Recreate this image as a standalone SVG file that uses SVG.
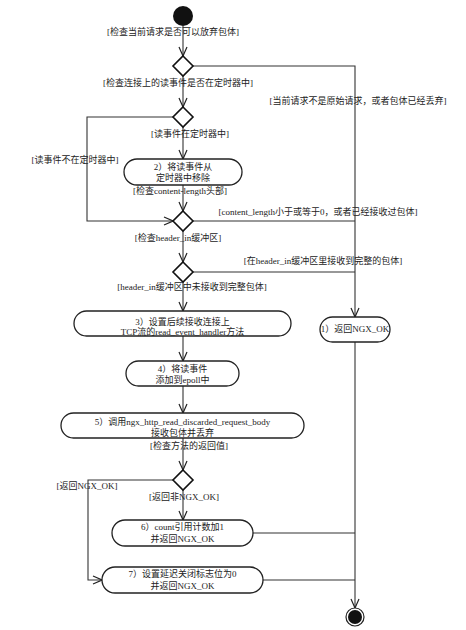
<svg xmlns="http://www.w3.org/2000/svg" width="466" height="630" viewBox="0 0 466 630">
<defs>
<marker id="arr" markerUnits="userSpaceOnUse" viewBox="0 0 10 10" refX="10" refY="5" markerWidth="10" markerHeight="10" orient="auto">
<path d="M1,1 L10,5 L1,9" fill="none" stroke="#222" stroke-width="1.2"/>
</marker>
<style>
.bg{fill:#fff}
.n{fill:#fff;stroke:#222;stroke-width:1.3}
.d{fill:#fff;stroke:#111;stroke-width:1.6}
.c{fill:none;stroke:#333;stroke-width:1.1}
.a{marker-end:url(#arr)}
text{font-family:"Liberation Serif","Noto Sans CJK SC",serif;font-size:9px;fill:#222;text-anchor:middle}
</style>
</defs>
<rect class="bg" x="0" y="0" width="466" height="630"/>
<g id="connectors">
<path class="c a" d="M183,26 L183,56"/>
<path class="c a" d="M193,66 L355,66 L355,317"/>
<path class="c a" d="M183,76 L183,107"/>
<path class="c a" d="M183,127 L183,159"/>
<path class="c a" d="M173,117 L87,117 L87,221 L173,221"/>
<path class="c a" d="M183,185 L183,211"/>
<path class="c" d="M193,221 L355,221"/>
<path class="c a" d="M183,231 L183,262"/>
<path class="c" d="M193,272 L355,272"/>
<path class="c a" d="M183,282 L183,311"/>
<path class="c a" d="M183,336 L183,361"/>
<path class="c a" d="M183,386 L183,413"/>
<path class="c a" d="M183,438 L183,470"/>
<path class="c a" d="M173,480 L88,480 L88,580 L102,580"/>
<path class="c a" d="M183,490 L183,520"/>
<path class="c" d="M253,533 L355,533"/>
<path class="c" d="M263,580 L355,580"/>
<path class="c a" d="M355,342 L355,608"/>
</g>
<g id="labels">
<text x="173" y="35">[检查当前请求是否可以放弃包体]</text>
<text x="178" y="86">[检查连接上的读事件是否在定时器中]</text>
<text x="358" y="104">[当前请求不是原始请求，或者包体已经丢弃]</text>
<text x="190" y="137">[读事件在定时器中]</text>
<text x="75" y="163">[读事件不在定时器中]</text>
<text x="180" y="194">[检查content-length头部]</text>
<text x="318" y="215">[content_length小于或等于0，或者已经接收过包体]</text>
<text x="178" y="241">[检查header_in缓冲区]</text>
<text x="323" y="264">[在header_in缓冲区里接收到完整的包体]</text>
<text x="192" y="290">[header_in缓冲区中未接收到完整包体]</text>
<text x="189" y="449">[检查方法的返回值]</text>
<text x="87" y="489">[返回NGX_OK]</text>
<text x="184" y="500">[返回非NGX_OK]</text>
</g>
<g id="start"><circle cx="183" cy="16" r="10" fill="#111"/></g>
<g id="decision1"><path class="d" d="M183,56 L193,66 L183,76 L173,66 Z"/></g>
<g id="decision2"><path class="d" d="M183,107 L193,117 L183,127 L173,117 Z"/></g>
<g id="decision3"><path class="d" d="M183,211 L193,221 L183,231 L173,221 Z"/></g>
<g id="decision4"><path class="d" d="M183,262 L193,272 L183,282 L173,272 Z"/></g>
<g id="decision5"><path class="d" d="M183,470 L193,480 L183,490 L173,480 Z"/></g>
<g id="node2">
<rect class="n" x="124" y="159" width="118" height="26" rx="13"/>
<text x="183" y="170">2）将读事件从</text>
<text x="183" y="181">定时器中移除</text>
</g>
<g id="node3">
<rect class="n" x="74" y="311" width="217" height="25" rx="12.5"/>
<text x="182.5" y="325">3）设置后续接收连接上</text>
<text x="182.5" y="335">TCP流的read_event_handler方法</text>
</g>
<g id="node1">
<rect class="n" x="320" y="317" width="70" height="25" rx="12.5"/>
<text x="355" y="332">1）返回NGX_OK</text>
</g>
<g id="node4">
<rect class="n" x="126" y="361" width="113" height="25" rx="12.5"/>
<text x="182.5" y="372">4）将读事件</text>
<text x="182.5" y="383">添加到epoll中</text>
</g>
<g id="node5">
<rect class="n" x="61" y="413" width="243" height="25" rx="12.5"/>
<text x="182.5" y="425">5）调用ngx_http_read_discarded_request_body</text>
<text x="182.5" y="436">接收包体并丢弃</text>
</g>
<g id="node6">
<rect class="n" x="112" y="520" width="141" height="26" rx="13"/>
<text x="182.5" y="530">6）count引用计数加1</text>
<text x="182.5" y="542">并返回NGX_OK</text>
</g>
<g id="node7">
<rect class="n" x="102" y="567" width="161" height="26" rx="13"/>
<text x="182.5" y="577">7）设置延迟关闭标志位为0</text>
<text x="182.5" y="589">并返回NGX_OK</text>
</g>
<g id="end">
<circle cx="355" cy="617" r="9" fill="#fff" stroke="#222" stroke-width="1.2"/>
<circle cx="355" cy="617" r="7" fill="#111"/>
</g>
</svg>
